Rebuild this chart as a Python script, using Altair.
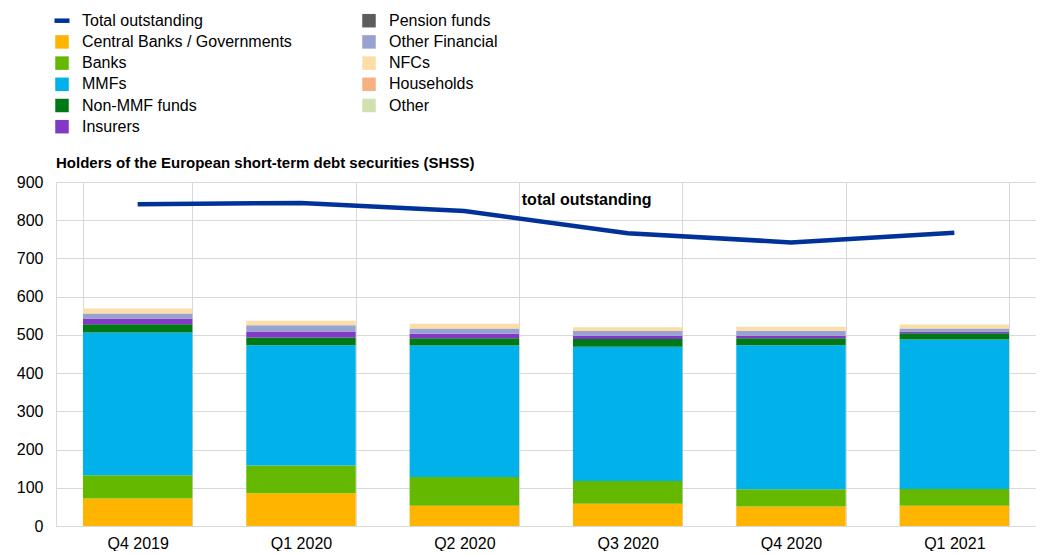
import altair as alt
import pandas as pd

FONT = "Liberation Sans"

quarters = ["Q4 2019", "Q1 2020", "Q2 2020", "Q3 2020", "Q4 2020", "Q1 2021"]
sectors = ["Central Banks / Governments", "Banks", "MMFs", "Non-MMF funds", "Insurers",
           "Pension funds", "Other Financial", "NFCs", "Households", "Other"]
sector_colors = ["#FFB400", "#65B800", "#00B1EA", "#007816", "#8139C6",
                 "#5C5C5C", "#98A1D0", "#FDDDA7", "#F6B183", "#CEE1AF"]

central_banks_gov = [72, 86, 53, 58, 51, 53]
banks = [61, 72, 75, 60, 45, 44]
mmfs = [373, 315, 344, 351, 377, 391]
non_mmf_funds = [22, 20, 19, 20, 18, 16]
insurers = [15, 16, 12, 9, 7, 4]
pension_funds = [0, 0, 0, 0, 0, 0]
other_financial = [13, 16, 14, 12, 13, 9]
nfcs = [13, 12, 12, 10, 10, 10]
households = [0, 0, 0, 0, 0, 0]
other = [0, 0, 0, 0, 0, 0]
total_outstanding = [842, 845, 824, 766, 742, 767]
total_color = "#003299"
y_ticks = [0, 100, 200, 300, 400, 500, 600, 700, 800, 900]

series = [central_banks_gov, banks, mmfs, non_mmf_funds, insurers,
          pension_funds, other_financial, nfcs, households, other]

legend_names = ["Total outstanding"] + sectors
legend_cols = [0, 0, 0, 0, 0, 0, 1, 1, 1, 1, 1]
legend_rows = [0, 1, 2, 3, 4, 5, 0, 1, 2, 3, 4]

rows = []
for i, (s, vals) in enumerate(zip(sectors, series)):
    for q, v in zip(quarters, vals):
        rows.append({"quarter": q, "sector": s, "value": v, "order": i})
bars_df = pd.DataFrame(rows)
line_df = pd.DataFrame({"quarter": quarters, "value": total_outstanding})
note_df = pd.DataFrame({"quarter": ["Q3 2020"], "value": [853], "label": ["total outstanding"]})
legend_df = pd.DataFrame({"name": legend_names, "col": legend_cols, "row": legend_rows})


def x_enc():
    return alt.X("quarter:N", sort=quarters,
                 scale=alt.Scale(paddingInner=0.33, paddingOuter=0.165),
                 axis=alt.Axis(title=None, labelAngle=0, tickBand="extent", ticks=False, tickSize=0,
                               labelPadding=9, grid=True))


def y_enc(stack=None):
    kw = {}
    if stack is not None:
        kw["stack"] = stack
    return alt.Y("value:Q", scale=alt.Scale(domain=[0, 900], nice=False),
                 axis=alt.Axis(title=None, values=y_ticks, ticks=False, tickSize=0,
                               labelPadding=13, grid=True, labelOverlap=False),
                 **kw)


bars = alt.Chart(bars_df).mark_bar().encode(
    x=x_enc(),
    y=y_enc("zero"),
    color=alt.Color("sector:N", scale=alt.Scale(domain=sectors, range=sector_colors), legend=None),
    order=alt.Order("order:Q", sort="ascending"),
)

line = alt.Chart(line_df).mark_line(color=total_color, strokeWidth=4.5).encode(
    x=x_enc(),
    y=y_enc(),
)

note = alt.Chart(note_df).mark_text(fontWeight="bold", fontSize=16, font=FONT, color="#000",
                                    align="center", baseline="middle", dx=-41).encode(
    x=x_enc(),
    y=y_enc(),
    text="label:N",
)

main = alt.layer(bars, line, note).properties(
    width=980, height=344,
    title=alt.TitleParams("Holders of the European short-term debt securities (SHSS)",
                          anchor="start", frame="group", fontSize=15, font=FONT,
                          fontWeight="bold", color="#000", offset=3),
)

square_path = "M-0.9,-0.9H0.9V0.9H-0.9Z"
line_path = "M-1,-0.3H1V0.3H-1Z"

leg_x = alt.X("col:Q", scale=alt.Scale(domain=[0, 1], range=[6, 313], nice=False), axis=None)
leg_y = alt.Y("row:Q", scale=alt.Scale(domain=[0, 5], range=[12.7, 118.7], nice=False), axis=None)

leg_sym = alt.Chart(legend_df).mark_point(filled=True, opacity=1, size=225, strokeWidth=0).encode(
    x=leg_x, y=leg_y,
    color=alt.Color("name:N", scale=alt.Scale(domain=legend_names, range=[total_color] + sector_colors),
                    legend=None),
    shape=alt.Shape("name:N", scale=alt.Scale(domain=legend_names, range=[line_path] + [square_path] * 10),
                    legend=None),
)
leg_txt = alt.Chart(legend_df).mark_text(align="left", baseline="middle", dx=20, fontSize=16,
                                         font=FONT, color="#000").encode(
    x=leg_x, y=leg_y, text="name:N",
)
legend_chart = alt.layer(leg_sym, leg_txt).properties(width=980, height=128)

chart = alt.vconcat(legend_chart, main, spacing=20).properties(
    padding={"left": 8, "top": 0, "right": 0, "bottom": 0}
).configure_view(stroke=None).configure_axis(
    labelFont=FONT, labelFontSize=16, labelColor="#000",
    gridColor="#d9d9d9", gridWidth=1, domainColor="#d9d9d9", domainWidth=1,
)

chart.save("out.html", embed_options={"renderer": "svg", "actions": False})
